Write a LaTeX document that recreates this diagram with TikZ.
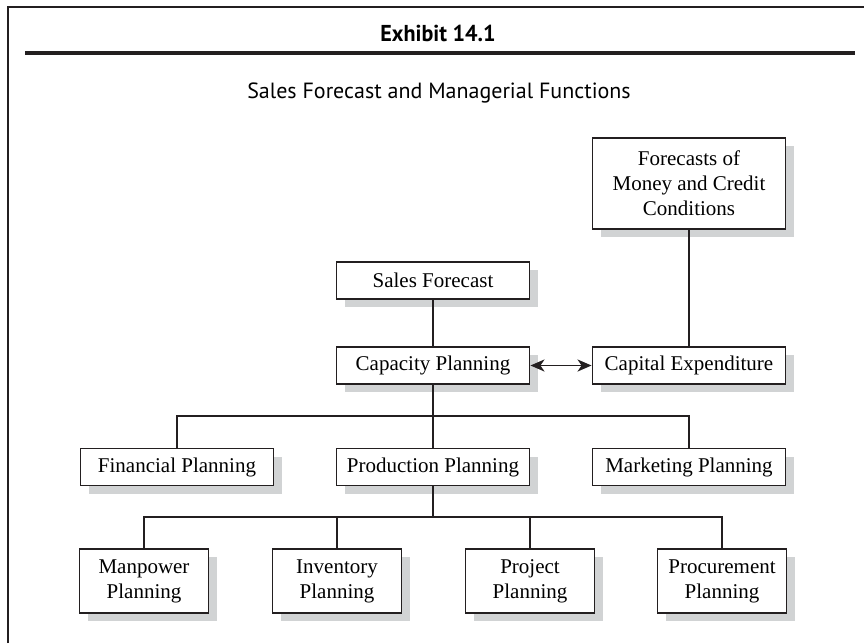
\documentclass[tikz,border=0pt]{standalone}
\usepackage{fontspec}
\setmainfont{Liberation Serif}
\newfontfamily\headfont{PT Sans}
\usetikzlibrary{shadows,arrows.meta}
\definecolor{ink}{HTML}{231F20}
\definecolor{shadowgray}{HTML}{D1D3D4}
\begin{document}
\begin{tikzpicture}[x=1pt,y={(0pt,-1pt)},
  box/.style={draw=ink, line width=1.9pt, fill=white, inner sep=0pt, align=center,
    font=\fontsize{21}{25}\selectfont,
    drop shadow={shadow xshift=8pt, shadow yshift=-8pt, fill=shadowgray, opacity=1}},
  wide/.style={box, minimum width=193pt, minimum height=37pt},
  small/.style={box, minimum width=129pt, minimum height=64pt},
  conn/.style={draw=ink, line width=1.9pt},
  biarrow/.style={conn, arrows={Stealth[length=14pt,width=12pt,inset=4pt]-Stealth[length=14pt,width=12pt,inset=4pt]}}]
\useasboundingbox (0,0) rectangle (864,643);
% frame
\draw[ink, line width=1.4pt] (8,643) -- (8,7) -- (864,7);
\draw[ink, line width=3.8pt] (25,53) -- (855,53);
\node (exh) at (438,33) {\headfont\bfseries\fontsize{23}{26}\selectfont\scalebox{0.96}[1]{Exhibit 14.1}};
\node (ttl) at (439,93) {\headfont\fontsize{22}{26}\selectfont Sales Forecast and Managerial Functions};
% boxes
\node[box, minimum width=193pt, minimum height=91pt] (fmc) at (689,183.5) {Forecasts of\\Money and Credit\\Conditions};
\node[wide] (sf) at (433,280.5) {Sales Forecast};
\node[wide] (cp) at (433,365.5) {Capacity Planning};
\node[wide] (ce) at (689,365.5) {Capital Expenditure};
\node[wide] (fp) at (177,467) {Financial Planning};
\node[wide] (pp) at (433,467) {Production Planning};
\node[wide] (mp) at (689,467) {Marketing Planning};
\node[small] (man) at (144,581) {Manpower\\Planning};
\node[small] (inv) at (337,581) {Inventory\\Planning};
\node[small] (prj) at (530,581) {Project\\Planning};
\node[small] (pro) at (722,581) {Procurement\\Planning};
% junctions
\coordinate (j1) at (433,416);
\coordinate (j2) at (433,517);
% connectors
\draw[conn] (fmc.south) -- (ce.north);
\draw[conn] (sf.south) -- (cp.north);
\draw[biarrow] (cp.east) -- (ce.west);
\draw[conn] (cp.south) -- (pp.north);
\draw[conn] (fp.north) |- (j1) -| (mp.north);
\draw[conn] (pp.south) -- (j2);
\draw[conn] (man.north) |- (j2) -| (pro.north);
\draw[conn] (inv.north) -- (inv.north |- j2);
\draw[conn] (prj.north) -- (prj.north |- j2);
\end{tikzpicture}
\end{document}
